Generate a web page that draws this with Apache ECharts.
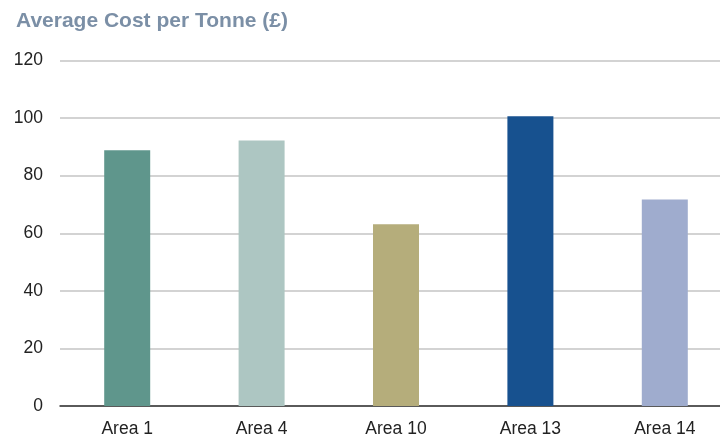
<!DOCTYPE html>
<html>
<head>
<meta charset="utf-8">
<script src="https://cdn.jsdelivr.net/npm/echarts@6/dist/echarts.min.js"></script>
<style>
  html, body { margin: 0; padding: 0; background: #fff; overflow: hidden; }
  /* plot area runs slightly past the right edge of the window */
  #chart { width: 732px; height: 439px; }
</style>
</head>
<body>
<div id="chart"></div>
<script>
// Average cost per tonne by area
const categories = ['Area 1', 'Area 4', 'Area 10', 'Area 13', 'Area 14'];
const costPerTonne = [88.8, 92.2, 63.1, 100.6, 71.7];
const barColors = ['#5f968c', '#adc6c2', '#b5ad7b', '#17518f', '#9facce'];
const yTicks = [0, 20, 40, 60, 80, 100, 120];

const chart = echarts.init(document.getElementById('chart'), null, { renderer: 'canvas' });

chart.setOption({
  animation: false,
  title: {
    text: 'Average Cost per Tonne (£)',
    left: 11,
    top: 6,
    textStyle: {
      fontFamily: 'Liberation Sans, Arial, sans-serif',
      fontWeight: 'bold',
      fontSize: 21,
      color: '#7b8fa6'
    }
  },
  grid: {
    left: 60,
    top: 60.5,
    right: 0,
    bottom: 33,
    containLabel: false
  },
  xAxis: {
    type: 'category',
    data: categories,
    axisLine: { lineStyle: { color: '#333', width: 1.5 } },
    axisTick: { show: false },
    axisLabel: {
      fontFamily: 'Liberation Sans, Arial, sans-serif',
      fontSize: 17.5,
      color: '#222',
      margin: 14
    }
  },
  yAxis: {
    type: 'value',
    min: yTicks[0],
    max: yTicks[yTicks.length - 1],
    interval: yTicks[1] - yTicks[0],
    axisLine: { show: false },
    axisTick: { show: false },
    splitLine: { lineStyle: { color: '#c4c4c4', width: 1.5 } },
    axisLabel: {
      fontFamily: 'Liberation Sans, Arial, sans-serif',
      fontSize: 17.5,
      color: '#222',
      margin: 17,
      padding: [0, 0, 5, 0]
    }
  },
  series: [{
    type: 'bar',
    barWidth: 46,
    data: costPerTonne.map((v, i) => ({ value: v, itemStyle: { color: barColors[i] } }))
  }]
});
</script>
</body>
</html>
